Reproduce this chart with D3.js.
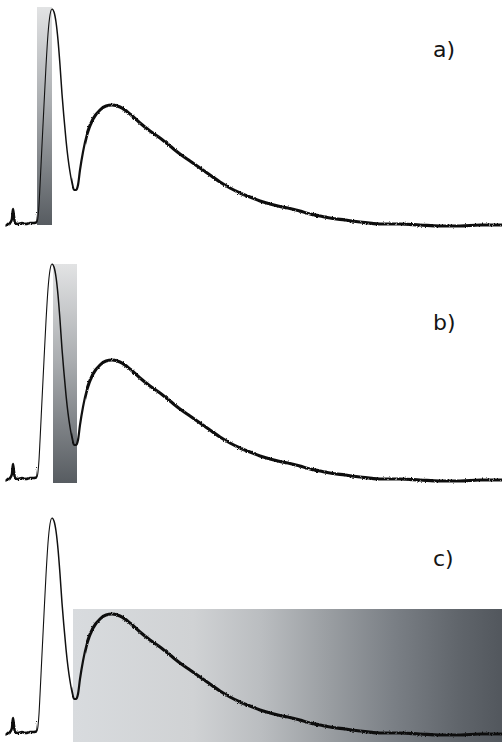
<!DOCTYPE html>
<html>
<head>
<meta charset="utf-8">
<script src="https://cdn.jsdelivr.net/npm/d3@7"></script>
<style>
  html, body { margin: 0; padding: 0; background: #fff; }
  svg { display: block; }
</style>
</head>
<body>
<script>
// Recorded trace: time (samples) and amplitude (arbitrary units, baseline = 0)
const time = [0, 2, 4, 6, 7, 8, 9, 12, 16, 20, 24, 28, 31, 32, 33, 34, 36, 38, 40, 42, 44, 46,
  48, 50, 52, 54, 56, 58, 60, 62, 64, 66, 68, 70, 72, 74, 77, 81, 87, 94, 100, 106, 114, 124,
  134, 144, 154, 164, 174, 184, 194, 204, 214, 224, 234, 244, 254, 264, 274, 284, 294, 304,
  314, 324, 339, 354, 374, 394, 414, 434, 454, 474, 496];
const amplitude = [-3, -1, 0, 4, 14, 6, 0, -1, 0, -1, 0, 0, 1, 6, 18, 37, 78, 118, 157, 189, 208, 214,
  211, 201, 183, 158, 129, 105, 83, 65, 51, 40, 33, 33, 38, 53, 71, 89, 104, 113, 117, 118, 116, 109,
  100, 92, 85, 77, 69, 62, 55, 48, 41, 35, 30, 26, 22, 19, 16.5, 14.5, 12, 9,
  7, 5, 3, 1, -1, -1, -2, -3, -3, -2, -2];

// One panel per analysis window
const panelLabels = ["a)", "b)", "c)"];
const windowStart = [31, 47, 67];
const windowEnd = [46, 71, 496];
const windowTop = [216, 214, 123];
const windowBottom = [-2, -5, -10];
const windowDirection = ["vertical", "vertical", "horizontal"];

const W = 502, H = 742;
const panelOffset = [0, 255, 509];
const labelY = [57, 330, 566];

const svg = d3.select("body").append("svg")
  .attr("width", W).attr("height", H);

const defs = svg.append("defs");

// Vertical fade: light at top, slate at bottom
const gv = defs.append("linearGradient").attr("id", "fadeV")
  .attr("x1", 0).attr("y1", 0).attr("x2", 0).attr("y2", 1);
gv.append("stop").attr("offset", "0%").attr("stop-color", "#e2e3e4");
gv.append("stop").attr("offset", "45%").attr("stop-color", "#a9acaf");
gv.append("stop").attr("offset", "100%").attr("stop-color", "#575c61");

// Horizontal fade: light at left, slate at right
const gh = defs.append("linearGradient").attr("id", "fadeH")
  .attr("x1", 0).attr("y1", 0).attr("x2", 1).attr("y2", 0);
[["0%", "#d8dbde"], ["28%", "#d0d2d4"], ["44%", "#babdc0"], ["59%", "#9b9fa3"],
 ["75%", "#7a7f85"], ["90%", "#60656b"], ["100%", "#52575d"]].forEach(([o, c]) =>
  gh.append("stop").attr("offset", o).attr("stop-color", c));

// Rough edge for the noisy part of the trace
const f = defs.append("filter").attr("id", "rough")
  .attr("x", "-5%").attr("y", "-20%").attr("width", "110%").attr("height", "140%");
f.append("feTurbulence").attr("type", "fractalNoise").attr("baseFrequency", 0.9)
  .attr("numOctaves", 2).attr("seed", 3).attr("result", "noise");
f.append("feDisplacementMap").attr("in", "SourceGraphic").attr("in2", "noise")
  .attr("scale", 2.4).attr("xChannelSelector", "R").attr("yChannelSelector", "G");

const x = d3.scaleLinear().domain([0, 496]).range([6, 502]);
const y = d3.scaleLinear().domain([0, 214]).range([223, 9]);

const points = time.map((t, i) => [t, amplitude[i]]);
const line = d3.line()
  .x(d => x(d[0])).y(d => y(d[1]))
  .curve(d3.curveMonotoneX);

// stroke widths along the trace (time ranges)
const strokeBands = [
  { t0: -6, t1: 31, w: 2.6, rough: true },
  { t0: 31, t1: 46, w: 1.1, rough: false },
  { t0: 46, t1: 66, w: 1.5, rough: false },
  { t0: 66, t1: 80, w: 2.2, rough: false },
  { t0: 80, t1: 500, w: 3.1, rough: true }
];
strokeBands.forEach((b, i) => {
  defs.append("clipPath").attr("id", "band" + i)
    .append("rect")
    .attr("x", x(b.t0)).attr("y", -20)
    .attr("width", x(b.t1) - x(b.t0)).attr("height", 300);
});

panelLabels.forEach((lab, p) => {
  const g = svg.append("g").attr("transform", `translate(0,${panelOffset[p]})`);

  g.append("rect")
    .attr("x", x(windowStart[p]))
    .attr("y", y(windowTop[p]))
    .attr("width", x(windowEnd[p]) - x(windowStart[p]))
    .attr("height", y(windowBottom[p]) - y(windowTop[p]))
    .attr("fill", windowDirection[p] === "vertical" ? "url(#fadeV)" : "url(#fadeH)");

  strokeBands.forEach((b, i) => {
    g.append("g").attr("clip-path", `url(#band${i})`)
      .append("path")
      .datum(points)
      .attr("d", line)
      .attr("fill", "none")
      .attr("stroke", "#111")
      .attr("stroke-width", b.w)
      .attr("stroke-linejoin", "round")
      .attr("filter", b.rough ? "url(#rough)" : null);
  });

  svg.append("text")
    .attr("x", 433)
    .attr("y", labelY[p])
    .attr("font-family", "DejaVu Sans, Verdana, sans-serif")
    .attr("font-size", 22)
    .attr("fill", "#151515")
    .text(lab);
});
</script>
</body>
</html>
